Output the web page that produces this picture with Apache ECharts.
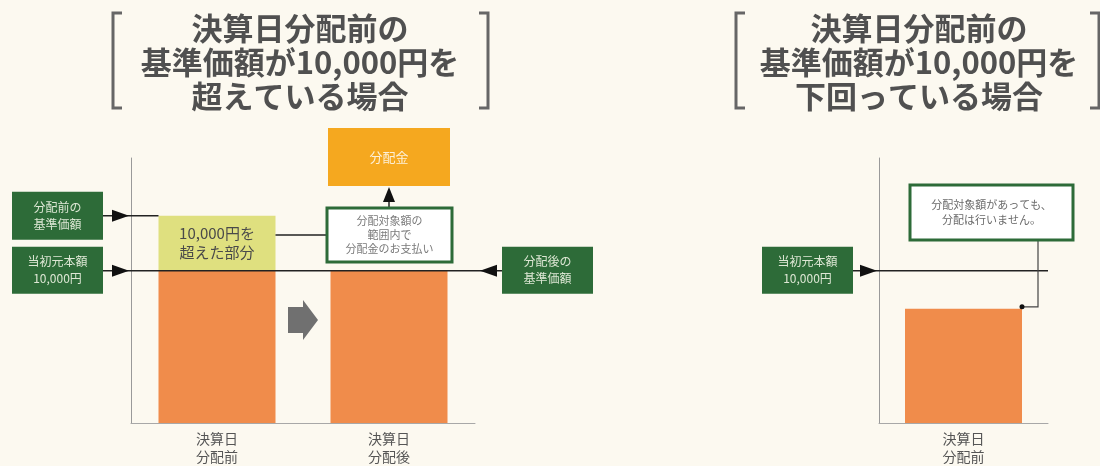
<!DOCTYPE html>
<html><head><meta charset="utf-8">
<script src="https://cdn.jsdelivr.net/npm/echarts@6/dist/echarts.min.js"></script>
<style>html,body{margin:0;padding:0;background:#fcf9f0}#c{width:1100px;height:466px}</style>
</head><body><div id="c"></div>
<script>
// ---- data ----
const categoriesLeft = ['決算日\n分配前', '決算日\n分配後'];
const principalValuesLeft = [10000, 10000];
const excessValuesLeft = [3600, '-'];
const categoriesRight = ['決算日\n分配前'];
const valuesRight = [7500];
const principal = 10000;
const axisMax = 17400;
const titleLeft = '決算日分配前の\n基準価額が10,000円を\n超えている場合';
const titleRight = '決算日分配前の\n基準価額が10,000円を\n下回っている場合';
const excessLabel = '10,000円を\n超えた部分';

const FONT = '"Noto Sans CJK JP", "Noto Sans", sans-serif';
const ORANGE = '#f08c4b', YELLOW = '#dfe07f', GOLD = '#f5a81f', GREEN = '#2d6b38';

const axisCommon = {
  y: {type:'value', min:0, max:axisMax, axisLine:{show:true, lineStyle:{color:'#9a9a9a', width:1}},
      axisTick:{show:false}, axisLabel:{show:false}, splitLine:{show:false}},
  x: {type:'category', axisLine:{show:true, lineStyle:{color:'#a8a8a8', width:1}}, axisTick:{show:false},
      axisLabel:{fontFamily:FONT, fontSize:14, lineHeight:18, color:'#555', margin:7}}
};

const chart = echarts.init(document.getElementById('c'));
chart.setOption({
  backgroundColor:'#fcf9f0',
  animation:false,
  grid:[{left:131, width:344, top:158, height:268},
        {left:879, width:169, top:158, height:268}],
  xAxis:[Object.assign({gridIndex:0, data:categoriesLeft}, axisCommon.x),
         Object.assign({gridIndex:1, data:categoriesRight}, axisCommon.x)],
  yAxis:[Object.assign({gridIndex:0}, axisCommon.y), Object.assign({gridIndex:1}, axisCommon.y)],
  series:[
    {type:'bar', xAxisIndex:0, yAxisIndex:0, stack:'L', barWidth:117, data:principalValuesLeft,
     itemStyle:{color:ORANGE}},
    {type:'bar', xAxisIndex:0, yAxisIndex:0, stack:'L', barWidth:117, data:excessValuesLeft,
     itemStyle:{color:YELLOW},
     label:{show:true, position:'inside', formatter:excessLabel, fontFamily:FONT, fontSize:15, lineHeight:19, color:'#4a4a4a'}},
    {type:'bar', xAxisIndex:1, yAxisIndex:1, barWidth:117, data:valuesRight, itemStyle:{color:ORANGE}}
  ]
});

const yL = v => chart.convertToPixel({yAxisIndex:0}, v);
const yR = v => chart.convertToPixel({yAxisIndex:1}, v);
const xL = i => chart.convertToPixel({xAxisIndex:0}, categoriesLeft[i]);
const xR = i => chart.convertToPixel({xAxisIndex:1}, categoriesRight[i]);
const half = 117/2;

const g = [];
const LINE = '#222';
function line(x1,y1,x2,y2,color,w){ g.push({type:'line', shape:{x1,y1,x2,y2}, style:{stroke:color||LINE, lineWidth:w||1.5}, z:50}); }
function arrowR(tx,y){ g.push({type:'polygon', shape:{points:[[tx-17,y-6],[tx,y],[tx-17,y+6]]}, style:{fill:'#111'}, z:51}); }
function arrowL(tx,y){ g.push({type:'polygon', shape:{points:[[tx+17,y-6],[tx,y],[tx+17,y+6]]}, style:{fill:'#111'}, z:51}); }
function arrowU(x,ty){ g.push({type:'polygon', shape:{points:[[x-6,ty+15],[x,ty],[x+6,ty+15]]}, style:{fill:'#111'}, z:51}); }
function box(x,y,w,h,fill,stroke,lw,text,tcolor,fs,lh){
  g.push({type:'rect', shape:{x,y,width:w,height:h}, style:{fill, stroke:stroke||null, lineWidth:lw||0}, z:52});
  g.push({type:'text', x:x+w/2, y:y+h/2, style:{text, align:'center', verticalAlign:'middle', fill:tcolor,
    font:fs+'px '+FONT, lineHeight:lh}, z:53});
}
function title(cx, text){
  g.push({type:'text', x:cx, y:11, style:{text, align:'center', verticalAlign:'top', fill:'#505050',
    font:'bold 31px '+FONT, lineHeight:34}, z:53});
}
function bracket(x, dir){
  g.push({type:'polyline', shape:{points:[[x+dir*9,13],[x,13],[x,108],[x+dir*9,108]]},
    style:{stroke:'#666', lineWidth:3, fill:null}, z:50});
}

// titles
title(300, titleLeft); bracket(113, 1); bracket(488, -1);
title(919, titleRight); bracket(736, 1); bracket(1099, -1);

// left chart annotations
const y10 = yL(principal), yTop = yL(principalValuesLeft[0] + excessValuesLeft[0]);
const c0 = xL(0), c1 = xL(1);
line(103, yTop, c0 - half, yTop); arrowR(129, yTop);
line(103, y10, 502, y10); arrowR(129, y10); arrowL(480, y10);
box(12, yTop - 24, 91, 48, GREEN, null, 0, '分配前の\n基準価額', '#dde7d4', 12, 17);
box(12, y10 - 24, 91, 47, GREEN, null, 0, '当初元本額\n10,000円', '#dde7d4', 12, 17);
box(502, y10 - 24, 91, 47, GREEN, null, 0, '分配後の\n基準価額', '#dde7d4', 12, 17);
const wbY = 208, wbH = 54;
line(c0 + half, wbY + wbH/2, c1 - half - 3, wbY + wbH/2);
box(c1 - 62, wbY, 125, wbH, '#ffffff', GREEN, 3, '分配対象額の\n範囲内で\n分配金のお支払い', '#7a7a7a', 11, 14);
line(c1, wbY, c1, 195); arrowU(c1, 187);
box(c1 - 61, 128, 122, 58, GOLD, null, 0, '分配金', '#fdf0d8', 13, 16);
const cm = (c0 + c1) / 2;
g.push({type:'polygon', shape:{points:[[cm-15,307],[cm,307],[cm,300],[cm+15,320],[cm,340],[cm,333],[cm-15,333]]},
  style:{fill:'#707070'}, z:50});

// right chart annotations
const y10R = yR(principal), yBarR = yR(valuesRight[0]);
const cr = xR(0);
line(853, y10R, 1048, y10R); arrowR(877, y10R);
box(762, y10R - 24, 91, 47, GREEN, null, 0, '当初元本額\n10,000円', '#dde7d4', 12, 17);
box(910, 185, 163, 55, '#ffffff', GREEN, 3, '分配対象額があっても、\n分配は行いません。', '#6a6a6a', 11, 15);
g.push({type:'polyline', shape:{points:[[1038,240],[1038,yBarR-2],[cr+half,yBarR-2]]}, style:{stroke:'#444', lineWidth:1.2, fill:null}, z:50});
g.push({type:'circle', shape:{cx:cr+half, cy:yBarR-2, r:2.5}, style:{fill:'#111'}, z:51});

chart.setOption({graphic:g});
</script></body></html>
